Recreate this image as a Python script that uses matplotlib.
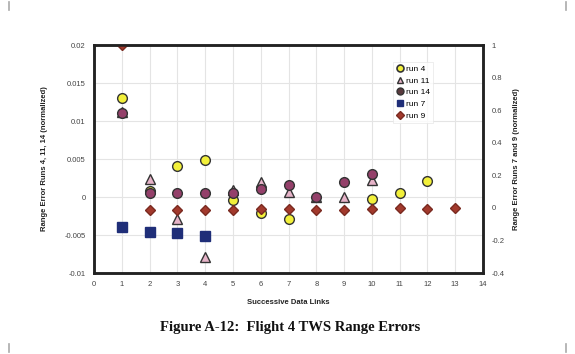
import numpy as np
import matplotlib.pyplot as plt
from matplotlib.lines import Line2D

# successive data links
links = list(range(1, 14))

# left axis (normalized range error), None = no point
run4 = [0.013, 0.0008, 0.0041, 0.0049, -0.0004, -0.0021, -0.0029, None, None, -0.0003, 0.0005, 0.0021, None]
run11 = [0.0112, 0.0024, -0.0029, -0.0079, 0.0009, 0.0020, 0.0007, 0.0000, 0.0000, 0.0022, None, None, None]
run14 = [0.0110, 0.0005, 0.0005, 0.0005, 0.0005, 0.0010, 0.0016, 0.0000, 0.0020, 0.0030, None, None, None]

# right axis
run7 = [-0.12, -0.15, -0.155, -0.17, None, None, None, None, None, None, None, None, None]
run9 = [1.0, -0.012, -0.012, -0.012, -0.012, -0.01, -0.005, -0.012, -0.012, -0.005, 0.0, -0.005, 0.0]

left_ticks = [0.02, 0.015, 0.01, 0.005, 0, -0.005, -0.01]
left_labels = ["0.02", "0.015", "0.01", "0.005", "0", "-0.005", "-0.01"]
right_ticks = [1, 0.8, 0.6, 0.4, 0.2, 0, -0.2, -0.4]
right_labels = ["1", "0.8", "0.6", "0.4", "0.2", "0", "-0.2", "-0.4"]


def clean(xs, ys):
	pts = [(x, y) for x, y in zip(xs, ys) if y is not None]
	return [p[0] for p in pts], [p[1] for p in pts]


plt.rcParams['font.family'] = 'Liberation Sans'
fig = plt.figure(figsize=(5.75, 3.54), dpi=100)
ax = fig.add_axes([94/575, 1 - 273/354, (483-94)/575, (273-45)/354])
ax2 = ax.twinx()

ax.set_xlim(0, 14)
ax.set_ylim(-0.01, 0.02)
ax2.set_ylim(-0.4, 1.0)

ax.set_xticks(range(0, 15))
ax.set_yticks(left_ticks)
ax.set_yticklabels(left_labels)
ax2.set_yticks(right_ticks)
ax2.set_yticklabels(right_labels)
for a in (ax, ax2):
	a.tick_params(length=0, labelsize=5.5, labelcolor="#444444", pad=6)
	for s in a.spines.values():
		s.set_linewidth(1.8)
		s.set_color("#222222")

ax.grid(color="#e4e4e4", linewidth=0.8)
ax.set_axisbelow(True)

mk = dict(linestyle="none", markeredgecolor="#333333", markeredgewidth=1.0)
ax.plot(*clean(links, run4), marker="o", markersize=7, markerfacecolor="#f2f03a", label="run 4", **mk)
ax.plot(*clean(links, run11), marker="^", markersize=7, markerfacecolor="#e6b3c8", label="run 11", **mk)
ax.plot(*clean(links, run14), marker="o", markersize=7, markerfacecolor="#94406a", label="run 14", **mk)
ax2.plot(*clean(links, run7), marker="s", markersize=7, markerfacecolor="#1f2e78", markeredgecolor="#1f2e78", linestyle="none", label="run 7")
ax2.plot(*clean(links, run9), marker="D", markersize=5, markerfacecolor="#a2392c", markeredgecolor="#7a2a20", linestyle="none", label="run 9")

handles = [
	Line2D([], [], marker="o", linestyle="none", markersize=5, markerfacecolor="#f2f03a", markeredgecolor="#333333", markeredgewidth=1.2),
	Line2D([], [], marker="^", linestyle="none", markersize=5, markerfacecolor="#e6b3c8", markeredgecolor="#333333"),
	Line2D([], [], marker="o", linestyle="none", markersize=5, markerfacecolor="#5a3a3e", markeredgecolor="#333333"),
	Line2D([], [], marker="s", linestyle="none", markersize=5, markerfacecolor="#1f2e78", markeredgecolor="#1f2e78"),
	Line2D([], [], marker="D", linestyle="none", markersize=4, markerfacecolor="#a2392c", markeredgecolor="#7a2a20"),
]
leg = ax2.legend(handles, ["run 4", "run 11", "run 14", "run 7", "run 9"],
	loc="upper left", bbox_to_anchor=((393-94)/389, 1 - (62-45)/228),
	fontsize=6, frameon=True, fancybox=False, handlelength=0.8, handletextpad=0.3,
	labelspacing=0.45, borderpad=0.4, borderaxespad=0)
leg.get_frame().set_edgecolor("#e6e6e6")
leg.get_frame().set_linewidth(0.6)

ax.set_xlabel("Successive Data Links", fontsize=5.5, fontweight="bold", color="#222222", labelpad=8)
ax.set_ylabel("Range Error Runs 4, 11, 14 (normalized)", fontsize=5.5, fontweight="bold", color="#222222", labelpad=12)
ax2.set_ylabel("Range Error Runs 7 and 9 (normalized)", fontsize=5.5, fontweight="bold", color="#222222", labelpad=6)

fig.text(290/575, 1 - 327/354, "Figure A-12:  Flight 4 TWS Range Errors", ha="center", va="center",
	fontsize=10.5, fontweight="bold", family="Liberation Serif", color="#111111")

# scan corner marks
for cx, cy in [(9, 6), (566, 6), (9, 348), (566, 348)]:
	fig.add_artist(Line2D([cx/575, cx/575], [1 - (cy-4)/354, 1 - (cy+4)/354], color="#aaaaaa", linewidth=1.2))

plt.savefig("out.png", dpi=100)
